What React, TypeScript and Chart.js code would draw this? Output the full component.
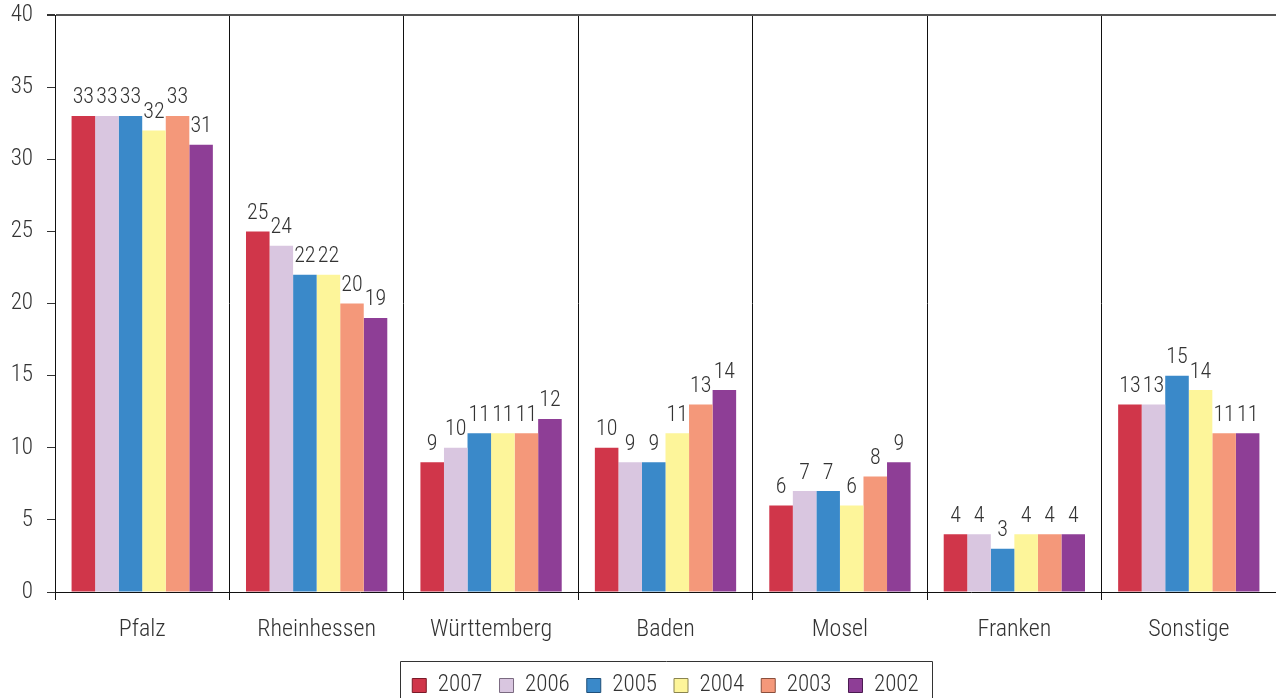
import React, { useEffect, useRef } from "react";
import { Chart, registerables } from "chart.js";

Chart.register(...registerables);

const categories = ["Pfalz", "Rheinhessen", "Württemberg", "Baden", "Mosel", "Franken", "Sonstige"];
const years = ["2007", "2006", "2005", "2004", "2003", "2002"];
const values2007 = [33, 25, 9, 10, 6, 4, 13];
const values2006 = [33, 24, 10, 9, 7, 4, 13];
const values2005 = [33, 22, 11, 9, 7, 3, 15];
const values2004 = [32, 22, 11, 11, 6, 4, 14];
const values2003 = [33, 20, 11, 13, 8, 4, 11];
const values2002 = [31, 19, 12, 14, 9, 4, 11];
const yTicks = [0, 5, 10, 15, 20, 25, 30, 35, 40];

const seriesValues = [values2007, values2006, values2005, values2004, values2003, values2002];
const fillColors = ["#d0364a", "#d9c6e0", "#3a89c9", "#fdf59a", "#f4987a", "#8e3e96"];
const edgeColors = ["#7a1a28", "#7a6a80", "#1f4f7a", "#8a8450", "#8a4f3c", "#4a1a50"];

const FONT = "'Roboto Condensed', 'DejaVu Sans Condensed', sans-serif";
const TEXT = "#333";

const valueLabels = {
  id: "valueLabels",
  afterDatasetsDraw(chart: any) {
    const ctx = chart.ctx;
    ctx.save();
    ctx.font = `300 22px ${FONT}`;
    ctx.fillStyle = TEXT;
    ctx.textAlign = "center";
    ctx.textBaseline = "bottom";
    chart.data.datasets.forEach((ds: any, i: number) => {
      const meta = chart.getDatasetMeta(i);
      meta.data.forEach((bar: any, j: number) => {
        ctx.fillText(String(ds.data[j]), bar.x, bar.y - 7);
      });
    });
    ctx.restore();
  },
};

const legendBorder = {
  id: "legendBorder",
  afterDraw(chart: any) {
    const lg = chart.legend;
    if (!lg || !lg.legendHitBoxes || !lg.legendHitBoxes.length) return;
    const hb = lg.legendHitBoxes;
    const left = Math.round(Math.min(...hb.map((h: any) => h.left)) - 12);
    const right = Math.round(Math.max(...hb.map((h: any) => h.left + h.width)) + 13);
    const top = Math.round(Math.min(...hb.map((h: any) => h.top)) - 13);
    const ctx = chart.ctx;
    ctx.save();
    ctx.strokeStyle = "#333";
    ctx.lineWidth = 1;
    ctx.beginPath();
    ctx.moveTo(left + 0.5, chart.height + 2);
    ctx.lineTo(left + 0.5, top + 0.5);
    ctx.lineTo(right + 0.5, top + 0.5);
    ctx.lineTo(right + 0.5, chart.height + 2);
    ctx.stroke();
    ctx.restore();
  },
};

export default function App() {
  const ref = useRef<HTMLCanvasElement>(null);
  useEffect(() => {
    document.body.style.margin = "0";
    const chart = new Chart(ref.current!, {
      type: "bar",
      data: {
        labels: categories,
        datasets: years.map((y, i) => ({
          label: y,
          data: seriesValues[i],
          backgroundColor: fillColors[i],
          borderWidth: 0,
          barPercentage: 1,
          categoryPercentage: 0.81,
        })),
      },
      options: {
        animation: false,
        responsive: false,
        devicePixelRatio: 1,
        layout: { padding: { top: 15, right: 0, left: 0, bottom: -9 } },
        plugins: {
          tooltip: { enabled: false },
          legend: {
            position: "bottom",
            fullSize: false,
            labels: {
              boxWidth: 14,
              boxHeight: 14,
              padding: 17,
              color: TEXT,
              font: { family: FONT, size: 23, weight: 300 },
              generateLabels(chart: any) {
                return chart.data.datasets.map((ds: any, i: number) => ({
                  text: ds.label,
                  fillStyle: fillColors[i],
                  strokeStyle: edgeColors[i],
                  lineWidth: 1,
                  fontColor: TEXT,
                  datasetIndex: i,
                  hidden: false,
                }));
              },
            },
          },
        },
        scales: {
          x: {
            grid: {
              offset: true,
              color: "#111",
              lineWidth: 1,
              tickLength: 8,
              drawOnChartArea: true,
            },
            border: { color: "#111", width: 1 },
            ticks: { color: TEXT, font: { family: FONT, size: 24, weight: 300 }, padding: 16 },
            afterFit(scale: any) {
              scale.height = 65;
            },
          },
          y: {
            min: 0,
            max: 40,
            afterBuildTicks(scale: any) {
              scale.ticks = yTicks.map((v) => ({ value: v }));
            },
            grid: {
              color: (c: any) => (c.tick && c.tick.value === 40 ? "#555" : "rgba(0,0,0,0)"),
              tickColor: "#333",
              tickLength: 8,
              lineWidth: (c: any) => (c.tick && c.tick.value === 40 ? 2 : 1),
            },
            border: { color: "#111", width: 1 },
            ticks: { color: TEXT, font: { family: FONT, size: 23, weight: 300 }, padding: 14 },
            afterFit(scale: any) {
              scale.width = 55;
              scale.paddingTop = 0;
              scale.paddingBottom = 0;
            },
          },
        },
      },
      plugins: [valueLabels, legendBorder],
    });
    return () => chart.destroy();
  }, []);
  return (
    <div style={{ width: 1276, height: 698 }}>
      <canvas ref={ref} width={1276} height={698} />
    </div>
  );
}
